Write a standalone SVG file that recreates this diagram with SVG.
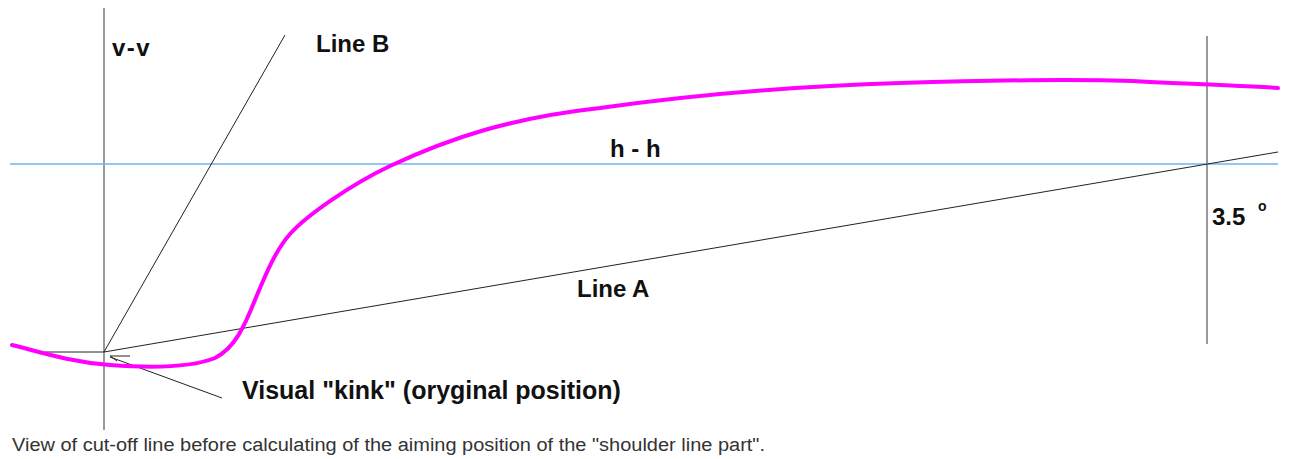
<svg xmlns="http://www.w3.org/2000/svg" width="1289" height="459" viewBox="0 0 1289 459">
<style>
.lbl{font-family:"Liberation Sans",Arial,sans-serif;font-weight:bold;fill:#111;font-size:24px}
.thin{stroke:#222;stroke-width:1;fill:none}
.vert{stroke:#777;stroke-width:1.5;fill:none}
</style>
<rect width="1289" height="459" fill="#fff"/>
<g id="axes">
<line class="vert" x1="104" y1="8" x2="104" y2="430"/>
<line class="vert" x1="1207" y1="36" x2="1207" y2="344"/>
<line x1="10" y1="164" x2="1278" y2="164" stroke="#6fb3f2" stroke-width="1.3"/>
</g>
<g id="connectors">
<line class="thin" x1="104" y1="352" x2="285" y2="35"/>
<line class="thin" x1="104" y1="352" x2="1278" y2="152"/>
<line class="thin" x1="45" y1="352" x2="104" y2="352" stroke-width="1.5"/>
<path class="thin" d="M222,398 L110,357 M130,356 L110,356 L117,361"/>
</g>
<g id="curve">
<path fill="none" stroke="#ff00ff" stroke-width="4" stroke-linecap="round" d="M12,345 C40,352 70,362 110,365 C150,368 190,368 215,358 C235,348 245,325 255,300 C263,281 274,252 290,234 C306,216 350,185 390,166 C450,138 510,118 600,108 C700,94 800,86 900,83 C1000,80 1100,79 1150,82 C1200,84 1250,86 1278,88"/>
</g>
<g id="labels">
<text class="lbl" x="112" y="56" letter-spacing="1.5">v-v</text>
<text class="lbl" x="316" y="52">Line B</text>
<text class="lbl" x="610" y="157">h - h</text>
<text class="lbl" x="1212" y="225">3.5 <tspan x="1258" y="211" font-size="14">o</tspan></text>
<text class="lbl" x="577" y="297">Line A</text>
<text class="lbl" x="242" y="399" font-size="25" style="font-size:25px">Visual "kink" (oryginal position)</text>
<text x="12" y="451" font-family="Liberation Sans,Arial,sans-serif" font-size="18" fill="#333" textLength="753" lengthAdjust="spacingAndGlyphs">View of cut-off line before calculating of the aiming position of the "shoulder line part".</text>
</g>
</svg>
